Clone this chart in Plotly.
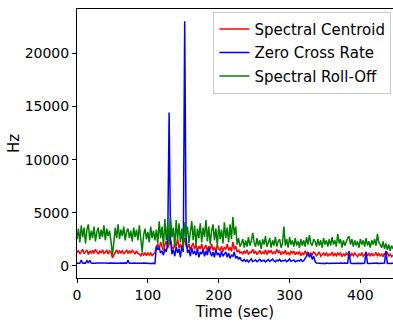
import plotly.graph_objects as go

STEP = 2  # seconds between frames

zero_cross_rate = [
    240, 260, 230, 550, 250, 270, 240, 480, 260, 520, 250, 230, 270, 240, 260, 250, 230, 260, 240, 250,
    270, 240, 230, 260, 250, 240, 220, 260, 250, 230, 240, 260, 250, 230, 240, 250, 520, 240, 230, 250,
    240, 260, 230, 220, 250, 240, 230, 250, 220, 240, 230, 210, 240, 220, 230, 210,
    1850, 1500, 1700, 1200, 1400, 1000, 1600, 1300, 2100, 14440,
    2400, 1100, 1500, 900, 1800, 1200, 1600, 800, 1900, 1300,
    23040, 2600, 1200, 1500, 900, 1700, 1100, 1400, 1000, 1600,
    800, 1300, 1100, 1500, 900, 1400, 1000, 1700, 1200, 900,
    1300, 800, 1500, 1000, 1200, 800, 1400, 900, 1100, 1300,
    800, 1200, 700, 1000, 900, 1300, 700, 900, 600, 800,
    500, 450, 600, 400, 550, 350, 500, 650, 400, 450,
    550, 380, 500, 600, 420, 480, 520, 360, 450, 580,
    400, 500, 620, 450, 380, 520, 470, 600, 410, 500,
    450, 560, 390, 480, 650, 420, 500, 550, 380, 470,
    520, 440, 600, 400, 480, 700, 900, 1250, 800, 1100,
    600, 900,
    400, 250, 230, 210, 240, 220, 230, 200, 250, 220,
    210, 240, 230, 220, 250, 210, 230, 240, 260, 220,
    230, 250, 210, 240, 1350, 260, 220, 230, 240, 210,
    230, 220, 250, 240, 210, 260, 1300, 240, 220, 230,
    210, 240, 220, 230, 250, 210, 240, 220, 230, 260,
    1400, 240, 220, 230, 210, 240,
]

spectral_centroid = [
    1250, 1450, 1100, 1400, 1550, 1150, 1300, 1500, 1050, 1400, 1200, 1450, 1150, 1550, 1300, 1100, 1400, 1200, 1500, 1150,
    1300, 1450, 1100, 1400, 1250, 750, 1000, 1300, 1500, 1150, 1400, 1200, 1450, 1100, 1300, 1500, 1150, 1400, 1200, 1450,
    1300, 1100, 1400, 1150, 1100, 900, 1250, 1000, 1200, 950, 1250, 1000, 1200, 950, 1100, 1250,
    1700, 2050, 1550, 2250, 1800, 1450, 1950, 2350, 1650, 2050,
    2450, 1750, 1550, 2150, 1850, 2550, 1650, 2050, 1550, 2250,
    2600, 1850, 1650, 2050, 1450, 1850, 2150, 1550, 1950, 1450,
    1850, 1550, 2050, 1450, 1750, 1950, 1350, 1850, 1550, 2050,
    1450, 1750, 1350, 1950, 1550, 1450, 1850, 1350, 1750, 1550,
    2050, 1450, 1750, 1350, 2250, 1550, 1850, 1300, 1500, 1200,
    1300, 1100, 1400, 1150, 1500, 1050, 1300, 1250, 1550, 1150,
    1400, 1050, 1250, 1450, 1100, 1300, 1150, 1500, 1050, 1400,
    1250, 1450, 1100, 1300, 1150, 1550, 1250, 1400, 1050, 1300,
    1150, 1450, 1100, 1250, 1000, 1350, 1200, 1400, 1050, 1250,
    1100, 1350, 950, 1200, 1050, 1400, 1100, 1300, 1000, 1200,
    1050, 1300,
    1150, 950, 1100, 1300, 900, 1050, 1200, 950, 1250, 900,
    1100, 1000, 1300, 900, 1150, 950, 1200, 1000, 1250, 850,
    1100, 950, 1200, 1000, 1350, 900, 1150, 950, 1200, 1000,
    850, 1150, 950, 1250, 900, 1050, 1300, 950, 1150, 900,
    1200, 950, 1050, 1250, 900, 1150, 950, 1100, 850, 1200,
    950, 1300, 900, 1100, 850, 1000,
]

spectral_rolloff = [
    2500, 3500, 2200, 3800, 2700, 3600, 2100, 3400, 3900, 2400, 3300, 2600, 3700, 2300, 3200, 3600, 2500, 3400, 2700, 3800,
    2400, 3500, 2800, 3300, 2300, 1000, 2200, 3600, 2600, 3900, 2500, 3400, 2800, 3700, 2400, 3200, 3500, 2600, 3300, 2300,
    3600, 2700, 3400, 2400, 3800, 2100, 1300, 2900, 3500, 2500, 3200, 2200, 3700, 2600, 3300, 2400,
    3400, 2100, 4200, 2600, 3700, 1800, 4400, 2400, 3900, 2000,
    4600, 2700, 3600, 1700, 4300, 2500, 4000, 2200, 3500, 1600,
    4100, 2800, 3700, 2100, 3400, 4200, 2400, 3800, 1900, 3500,
    2600, 4000, 2200, 3600, 2700, 4300, 2300, 3700, 2000, 3300,
    3900, 2400, 3500, 1900, 3800, 2500, 3400, 2100, 4100, 2600,
    3600, 2200, 3900, 2500, 4600, 2900, 3700, 2000, 2600, 1800,
    2100, 2500, 1700, 2400, 1800, 2700, 1900, 2300, 3100, 2200,
    1800, 2600, 1900, 2400, 1600, 2500, 2000, 2800, 1800, 2300,
    2600, 1700, 2400, 1900, 2700, 1800, 2300, 2500, 1700, 2100,
    3700, 1900, 2500, 1700, 2700, 2000, 2400, 1800, 2600, 1900,
    2300, 1700, 2500, 1900, 2400, 1800, 2700, 2000, 2900, 2100,
    1900, 2500,
    2300, 1800, 2500, 1900, 2400, 1700, 2600, 2000, 2400, 1800,
    2500, 1900, 2700, 2000, 2400, 1800, 3000, 2100, 2500, 1700,
    2400, 1900, 2300, 2600, 2800, 2000, 2500, 1800, 2400, 1900,
    2300, 1700, 2500, 2000, 2400, 1800, 2600, 1900, 2300, 1700,
    2400, 2000, 2500, 1900, 3000, 2200, 2000, 1700, 2300, 1600,
    2100, 1500, 2000, 1400, 1900, 1600,
]

x_ticks = [0, 100, 200, 300, 400]
y_ticks = [0, 5000, 10000, 15000, 20000]
y_tick_labels = ["0", "5000", "10000", "15000", "20000"]

FONT = "DejaVu Sans"

def times(values):
    return [STEP * i for i in range(len(values))]

fig = go.Figure()
for name, vals, color in [
    ("Spectral Centroid", spectral_centroid, "red"),
    ("Zero Cross Rate", zero_cross_rate, "blue"),
    ("Spectral Roll-Off", spectral_rolloff, "green"),
]:
    fig.add_trace(go.Scatter(x=times(vals), y=vals, mode="lines", name=name,
                             legendgroup=name,
                             line=dict(color=color, width=1.5)))

fig.update_layout(
    width=393, height=322,
    margin=dict(l=77, r=0, t=9, b=44),
    paper_bgcolor="white", plot_bgcolor="white",
    font=dict(family=FONT, size=14, color="black"),
    showlegend=True,
    legend=dict(x=0.995, xanchor="right", y=0.99, yanchor="top",
                bgcolor="white", bordercolor="#cccccc", borderwidth=1,
                font=dict(family=FONT, size=15), tracegroupgap=1,
                itemwidth=30),
)
fig.update_xaxes(range=[0, 446], tickvals=x_ticks, showgrid=False, zeroline=False,
                 showline=True, linecolor="black", linewidth=1, mirror=True,
                 ticks="outside", ticklen=4, tickcolor="black",
                 tickfont=dict(family=FONT, size=14),
                 title=dict(text="Time (sec)", font=dict(family=FONT, size=15), standoff=2))
fig.update_yaxes(range=[-1152, 24192], tickvals=y_ticks, ticktext=y_tick_labels,
                 showgrid=False, zeroline=False,
                 showline=True, linecolor="black", linewidth=1,
                 ticks="outside", ticklen=4, tickcolor="black",
                 tickfont=dict(family=FONT, size=14),
                 title=dict(text="Hz", font=dict(family=FONT, size=15), standoff=1))

fig.write_html("out.html")
